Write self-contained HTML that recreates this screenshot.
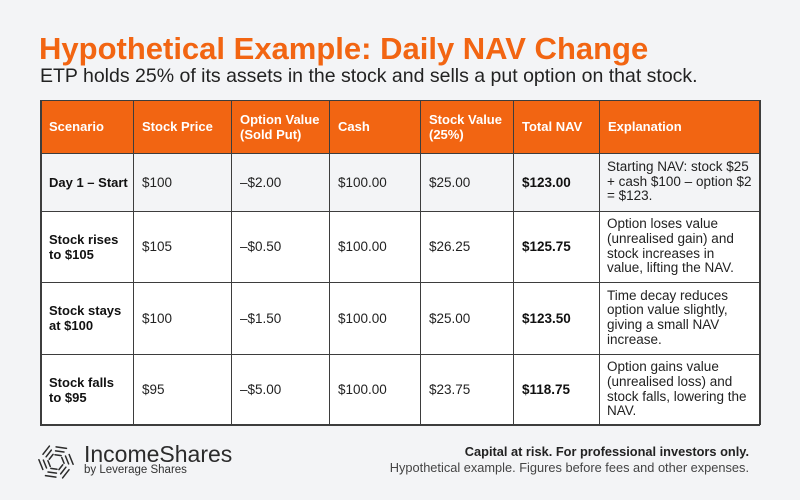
<!DOCTYPE html>
<html>
<head>
<meta charset="utf-8">
<style>
  html,body{margin:0;padding:0;}
  body{width:800px;height:500px;background:#f3f4f6;position:relative;overflow:hidden;font-family:"Liberation Sans",Arial,sans-serif;}
  .abs{position:absolute;white-space:nowrap;line-height:1;}
  .cell{position:absolute;display:flex;align-items:center;box-sizing:border-box;padding-left:9px;font-size:13.5px;color:#222;line-height:15px;white-space:nowrap;}
  .hd{background:#f26512;color:#fff;font-weight:bold;font-size:13px;}
  .b{font-weight:bold;color:#111;}
  .sc{font-size:13px;}
  .ex{padding-left:8px;line-height:14.7px;}
  .hl{position:absolute;left:40px;width:720px;height:1px;background:#3d3d3d;}
  .vl{position:absolute;top:100px;height:325px;width:1px;background:#3d3d3d;}
</style>
</head>
<body>
<div class="abs" style="left:39px;top:33px;font-size:31px;font-weight:bold;color:#f26512;">Hypothetical Example: Daily NAV Change</div>
<div class="abs" style="left:40px;top:67px;font-size:19.5px;color:#222;">ETP holds 25% of its assets in the stock and sells a put option on that stock.</div>

<!-- header row -->
<div class="cell hd" style="left:40px;top:100px;width:93px;height:53px;">Scenario</div>
<div class="cell hd" style="left:133px;top:100px;width:98px;height:53px;">Stock Price</div>
<div class="cell hd" style="left:231px;top:100px;width:98px;height:53px;">Option Value<br>(Sold Put)</div>
<div class="cell hd" style="left:329px;top:100px;width:91px;height:53px;">Cash</div>
<div class="cell hd" style="left:420px;top:100px;width:93px;height:53px;">Stock Value<br>(25%)</div>
<div class="cell hd" style="left:513px;top:100px;width:86px;height:53px;">Total NAV</div>
<div class="cell hd" style="left:599px;top:100px;width:161px;height:53px;">Explanation</div>

<!-- row backgrounds -->
<div style="position:absolute;left:40px;top:153px;width:720px;height:58px;background:#f3f4f6;"></div>
<div style="position:absolute;left:40px;top:211px;width:720px;height:214px;background:#ffffff;"></div>

<!-- row 1 -->
<div class="cell b sc" style="left:40px;top:153px;width:93px;height:58px;">Day 1 – Start</div>
<div class="cell" style="left:133px;top:153px;width:98px;height:58px;">$100</div>
<div class="cell" style="left:231px;top:153px;width:98px;height:58px;">–$2.00</div>
<div class="cell" style="left:329px;top:153px;width:91px;height:58px;">$100.00</div>
<div class="cell" style="left:420px;top:153px;width:93px;height:58px;">$25.00</div>
<div class="cell b" style="left:513px;top:153px;width:86px;height:58px;">$123.00</div>
<div class="cell ex" style="left:599px;top:153px;width:161px;height:58px;">Starting NAV: stock $25<br>+ cash $100 – option $2<br>= $123.</div>

<!-- row 2 -->
<div class="cell b sc" style="left:40px;top:211px;width:93px;height:71px;">Stock rises<br>to $105</div>
<div class="cell" style="left:133px;top:211px;width:98px;height:71px;">$105</div>
<div class="cell" style="left:231px;top:211px;width:98px;height:71px;">–$0.50</div>
<div class="cell" style="left:329px;top:211px;width:91px;height:71px;">$100.00</div>
<div class="cell" style="left:420px;top:211px;width:93px;height:71px;">$26.25</div>
<div class="cell b" style="left:513px;top:211px;width:86px;height:71px;">$125.75</div>
<div class="cell ex" style="left:599px;top:211px;width:161px;height:71px;">Option loses value<br>(unrealised gain) and<br>stock increases in<br>value, lifting the NAV.</div>

<!-- row 3 -->
<div class="cell b sc" style="left:40px;top:282px;width:93px;height:72px;">Stock stays<br>at $100</div>
<div class="cell" style="left:133px;top:282px;width:98px;height:72px;">$100</div>
<div class="cell" style="left:231px;top:282px;width:98px;height:72px;">–$1.50</div>
<div class="cell" style="left:329px;top:282px;width:91px;height:72px;">$100.00</div>
<div class="cell" style="left:420px;top:282px;width:93px;height:72px;">$25.00</div>
<div class="cell b" style="left:513px;top:282px;width:86px;height:72px;">$123.50</div>
<div class="cell ex" style="left:599px;top:282px;width:161px;height:72px;">Time decay reduces<br>option value slightly,<br>giving a small NAV<br>increase.</div>

<!-- row 4 -->
<div class="cell b sc" style="left:40px;top:354px;width:93px;height:71px;">Stock falls<br>to $95</div>
<div class="cell" style="left:133px;top:354px;width:98px;height:71px;">$95</div>
<div class="cell" style="left:231px;top:354px;width:98px;height:71px;">–$5.00</div>
<div class="cell" style="left:329px;top:354px;width:91px;height:71px;">$100.00</div>
<div class="cell" style="left:420px;top:354px;width:93px;height:71px;">$23.75</div>
<div class="cell b" style="left:513px;top:354px;width:86px;height:71px;">$118.75</div>
<div class="cell ex" style="left:599px;top:354px;width:161px;height:71px;">Option gains value<br>(unrealised loss) and<br>stock falls, lowering the<br>NAV.</div>

<!-- grid lines -->
<div class="hl" style="top:100px;"></div>
<div class="hl" style="top:153px;"></div>
<div class="hl" style="top:211px;"></div>
<div class="hl" style="top:282px;"></div>
<div class="hl" style="top:354px;"></div>
<div class="hl" style="top:424px;height:1.5px;"></div>
<div class="vl" style="left:40px;width:1.5px;"></div>
<div class="vl" style="left:133px;"></div>
<div class="vl" style="left:231px;"></div>
<div class="vl" style="left:329px;"></div>
<div class="vl" style="left:420px;"></div>
<div class="vl" style="left:513px;"></div>
<div class="vl" style="left:599px;"></div>
<div class="vl" style="left:759px;width:1.5px;"></div>

<!-- logo -->
<svg style="position:absolute;left:38px;top:443px;" width="36" height="38" viewBox="-18 -19 36 38">
  <g stroke="#2b2b2b" stroke-width="1.5" fill="none" stroke-linecap="round">
    <g id="arm">
      <line x1="-2" y1="-15" x2="8.5" y2="-15" transform="rotate(8)"/>
      <line x1="-2" y1="-11" x2="6.5" y2="-11" transform="rotate(8)"/>
      <line x1="-2" y1="-7" x2="4.2" y2="-7" transform="rotate(8)"/>
    </g>
    <use href="#arm" transform="rotate(60)"/>
    <use href="#arm" transform="rotate(120)"/>
    <use href="#arm" transform="rotate(180)"/>
    <use href="#arm" transform="rotate(240)"/>
    <use href="#arm" transform="rotate(300)"/>
  </g>
</svg>
<div class="abs" style="left:84px;top:442.5px;font-size:23px;color:#2b2b2b;">IncomeShares</div>
<div class="abs" style="left:84px;top:465px;font-size:11.5px;color:#333;">by Leverage Shares</div>

<div class="abs" style="right:51px;top:446px;font-size:12.8px;font-weight:bold;color:#222;">Capital at risk. For professional investors only.</div>
<div class="abs" style="right:51px;top:462px;font-size:12.8px;color:#444;">Hypothetical example. Figures before fees and other expenses.</div>
</body>
</html>
